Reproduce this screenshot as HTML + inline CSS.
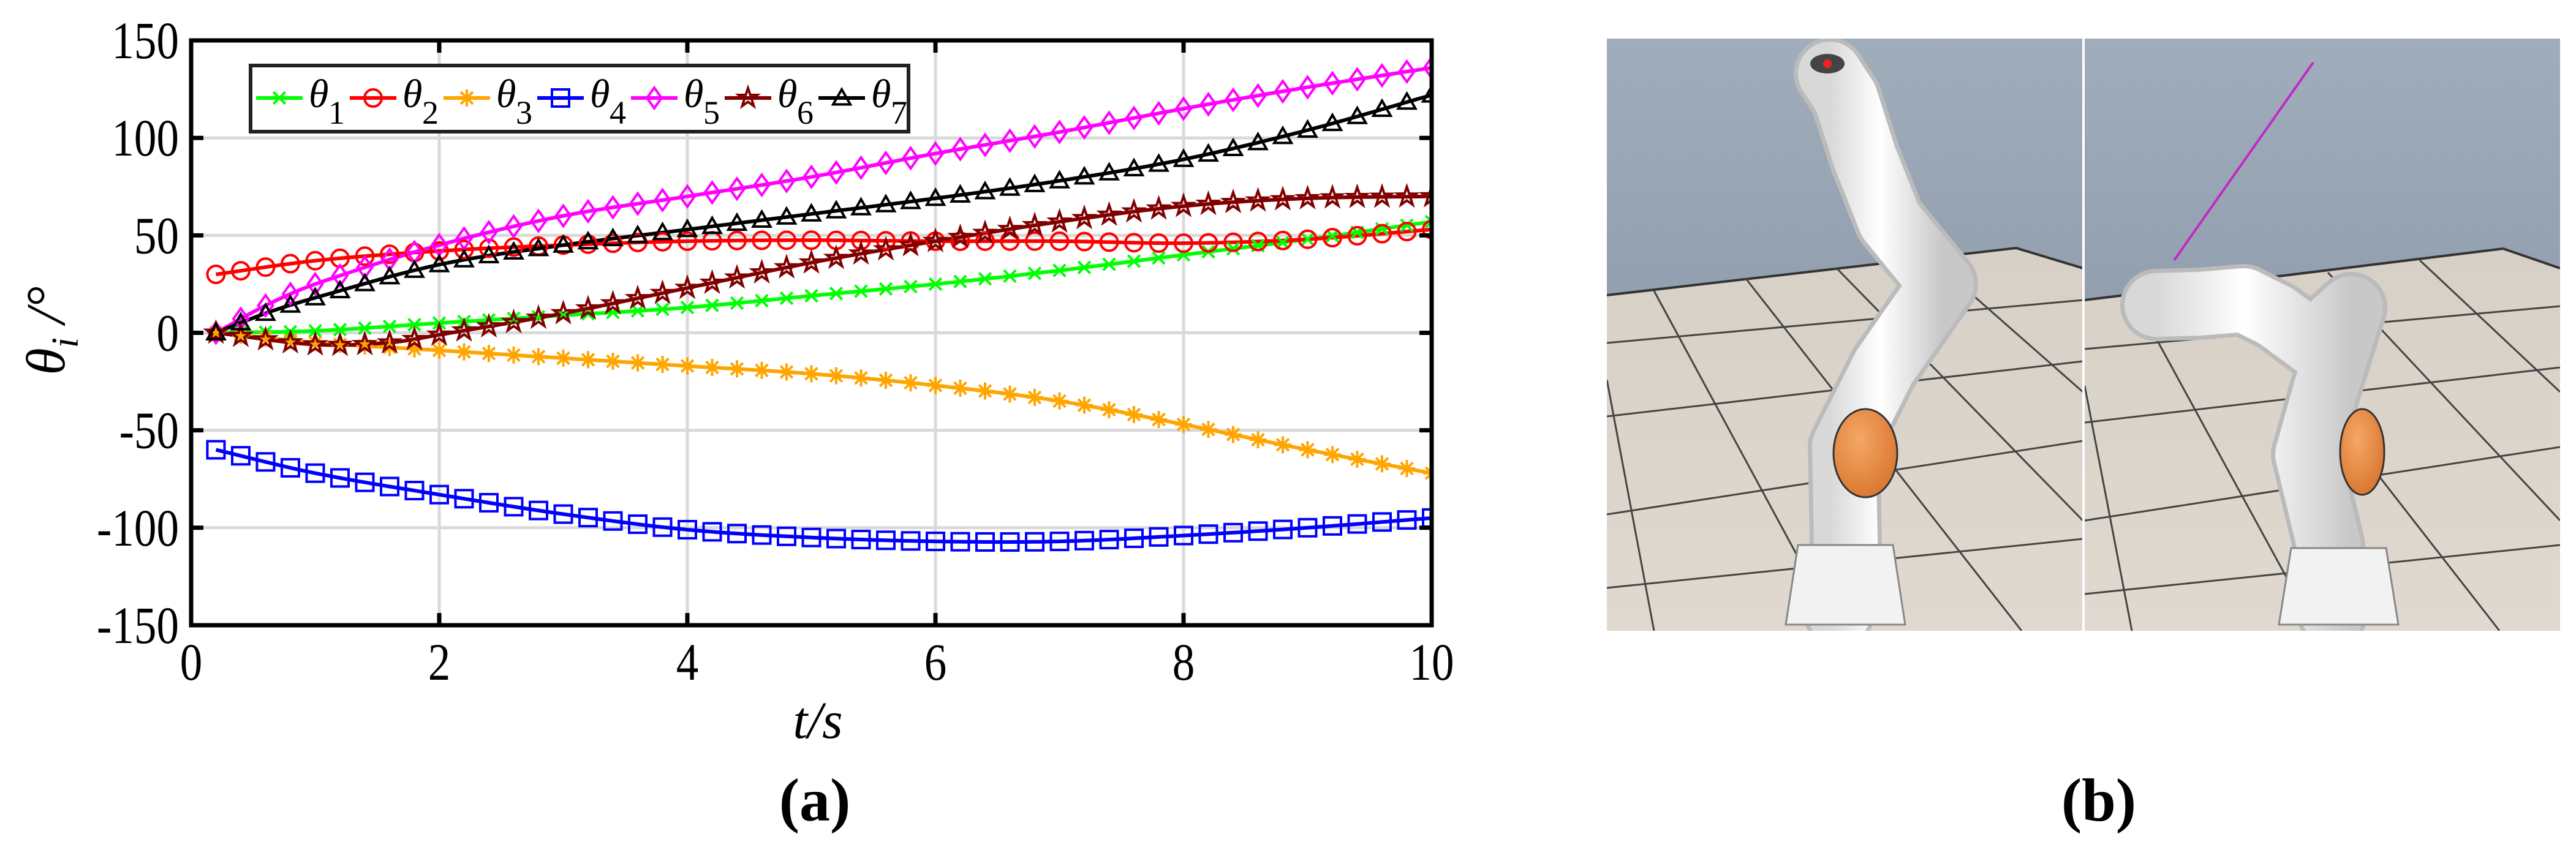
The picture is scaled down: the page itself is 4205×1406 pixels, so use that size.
<!DOCTYPE html>
<html><head><meta charset="utf-8">
<style>
html,body{margin:0;padding:0;background:#fff;}
svg{display:block;}
text{font-family:"Liberation Serif",serif;}
</style></head>
<body>
<svg id="s" width="4205" height="1406" viewBox="0 0 4205 1406" xmlns="http://www.w3.org/2000/svg">
<defs>
<linearGradient id="sky" x1="0" y1="0" x2="0" y2="1">
<stop offset="0" stop-color="#a0adbb"/><stop offset="1" stop-color="#808d9e"/>
</linearGradient>
<linearGradient id="floor" x1="0" y1="0" x2="0" y2="1">
<stop offset="0" stop-color="#d6d0c6"/><stop offset="1" stop-color="#e0d9d0"/>
</linearGradient>
<linearGradient id="wh" x1="0" y1="0" x2="1" y2="0">
<stop offset="0" stop-color="#d8d8d8"/><stop offset="0.45" stop-color="#ffffff"/><stop offset="1" stop-color="#c8c8c8"/>
</linearGradient>
<radialGradient id="or" cx="0.4" cy="0.35" r="0.7">
<stop offset="0" stop-color="#f5a866"/><stop offset="1" stop-color="#d8752f"/>
</radialGradient>
<clipPath id="pc"><rect x="312" y="66" width="2025" height="955"/></clipPath>
<clipPath id="lp"><rect x="2623" y="63" width="777" height="967"/></clipPath>
<clipPath id="rp"><rect x="3403" y="63" width="776" height="967"/></clipPath>
</defs>
<g id="grid" stroke="#d9d9d9" stroke-width="5"></g>
<g id="series" clip-path="url(#pc)"></g>
<rect x="312" y="66" width="2025" height="955" fill="none" stroke="#000" stroke-width="7"/>
<g id="ticks" stroke="#000" stroke-width="7"></g>
<g id="labels" font-size="86" fill="#000"></g>
<text x="1335" y="1205" font-size="86" font-style="italic" text-anchor="middle">t/s</text>
<g transform="translate(105,540) rotate(-90)">
<text x="0" y="0" font-size="90" font-style="italic" text-anchor="middle">θ<tspan font-size="62" dy="22">i</tspan><tspan dy="-22"> /°</tspan></text>
</g>
<text x="1330" y="1340" font-size="100" font-weight="bold" text-anchor="middle">(a)</text>
<text x="3426" y="1340" font-size="100" font-weight="bold" text-anchor="middle">(b)</text>
<rect x="409" y="107" width="1074" height="108" fill="#fff" stroke="#222" stroke-width="6"/>
<g id="legend"></g>

<g clip-path="url(#lp)">
<rect x="2623" y="63" width="777" height="967" fill="url(#sky)"/>
<polygon points="2623,482 3291,405 3400,438 3400,1030 2623,1030" fill="url(#floor)"/>
<polyline points="2623,482 3291,405 3400,438" fill="none" stroke="#333" stroke-width="4"/>
<g stroke="#444" stroke-width="3" fill="none">
<line x1="2623" y1="560" x2="3400" y2="490"/><line x1="2623" y1="680" x2="3400" y2="590"/>
<line x1="2623" y1="840" x2="3400" y2="720"/><line x1="2623" y1="960" x2="3400" y2="880"/>
<line x1="2700" y1="475" x2="3000" y2="1030"/><line x1="2850" y1="455" x2="3300" y2="1030"/>
<line x1="3000" y1="440" x2="3400" y2="850"/><line x1="3150" y1="420" x2="3400" y2="640"/>
<line x1="2623" y1="620" x2="2700" y2="1030"/>
</g>
<path d="M2987,120 L3013,160 L3044,257 L3085,360 L3170,464 L3075,600 L3010,729 L3013,885 L3002,1000" fill="none" stroke="#bbb" stroke-width="118" stroke-linecap="round" stroke-linejoin="round"/>
<path d="M2987,120 L3013,160 L3044,257 L3085,360 L3170,464 L3075,600 L3010,729 L3013,885 L3002,1000" fill="none" stroke="url(#wh)" stroke-width="104" stroke-linecap="round" stroke-linejoin="round"/>
<polygon points="2935,890 3090,890 3110,1020 2915,1020" fill="#f2f2f2" stroke="#888" stroke-width="3"/>
<ellipse cx="3045" cy="740" rx="52" ry="72" fill="url(#or)" stroke="#333" stroke-width="3"/>
<ellipse cx="2983" cy="104" rx="28" ry="16" fill="#444"/><circle cx="2983" cy="104" r="7" fill="#e22"/>
</g>
<g clip-path="url(#rp)">
<rect x="3403" y="63" width="776" height="967" fill="url(#sky)"/>
<polygon points="3403,490 4086,406 4179,438 4179,1030 3403,1030" fill="url(#floor)"/>
<polyline points="3403,490 4086,406 4179,438" fill="none" stroke="#333" stroke-width="4"/>
<g stroke="#444" stroke-width="3" fill="none">
<line x1="3403" y1="570" x2="4179" y2="500"/><line x1="3403" y1="690" x2="4179" y2="600"/>
<line x1="3403" y1="850" x2="4179" y2="730"/><line x1="3403" y1="970" x2="4179" y2="890"/>
<line x1="3480" y1="480" x2="3780" y2="1030"/><line x1="3640" y1="465" x2="4080" y2="1030"/>
<line x1="3800" y1="445" x2="4179" y2="850"/><line x1="3950" y1="425" x2="4179" y2="640"/>
<line x1="3403" y1="630" x2="3480" y2="1030"/>
</g>
<line x1="3549" y1="425" x2="3776" y2="102" stroke="#c02ac8" stroke-width="4"/>
<path d="M3520,498 L3591,496 L3663,490 L3715,516 L3775,560 L3838,503 L3797,632 L3766,742 L3802,891 L3807,1000" fill="none" stroke="#bbb" stroke-width="118" stroke-linecap="round" stroke-linejoin="round"/>
<path d="M3520,498 L3591,496 L3663,490 L3715,516 L3775,560 L3838,503 L3797,632 L3766,742 L3802,891 L3807,1000" fill="none" stroke="url(#wh)" stroke-width="104" stroke-linecap="round" stroke-linejoin="round"/>
<polygon points="3740,895 3895,895 3915,1020 3720,1020" fill="#f2f2f2" stroke="#888" stroke-width="3"/>
<ellipse cx="3856" cy="738" rx="36" ry="70" fill="url(#or)" stroke="#333" stroke-width="3"/>
</g>
<line x1="3401" y1="63" x2="3401" y2="1030" stroke="#fff" stroke-width="4"/>
</svg>
<script>
const NS="http://www.w3.org/2000/svg";
const X=v=>312+v*202.5, Y=v=>543.5-v*3.183;
function el(p,t,a){const e=document.createElementNS(NS,t);for(const k in a)e.setAttribute(k,a[k]);p.appendChild(e);return e;}
const grid=document.getElementById('grid'),ticks=document.getElementById('ticks'),labels=document.getElementById('labels');
for(let i=1;i<5;i++){el(grid,'line',{x1:X(2*i),x2:X(2*i),y1:66,y2:1021});}
for(let v=-100;v<=100;v+=50){el(grid,'line',{x1:312,x2:2337,y1:Y(v),y2:Y(v)});}
for(let i=0;i<=5;i++){const x=X(2*i);el(ticks,'line',{x1:x,x2:x,y1:1021,y2:1001});el(ticks,'line',{x1:x,x2:x,y1:66,y2:86});
 const t=el(labels,'text',{x:0,y:0,'text-anchor':'middle',transform:`translate(${x},1110) scale(0.85,1)`});t.textContent=2*i;}
for(let v=-150;v<=150;v+=50){const y=Y(v);el(ticks,'line',{x1:312,x2:332,y1:y,y2:y});el(ticks,'line',{x1:2337,x2:2317,y1:y,y2:y});
 const t=el(labels,'text',{x:0,y:0,'text-anchor':'end',transform:`translate(292,${y+29}) scale(0.85,1)`});t.textContent=v;}
const K={
1:[[0.2,0],[1,1],[2,5],[3,9],[4,13],[5,19],[6,25],[7,32],[8,40],[9,48],[10,57]],
2:[[0.2,30],[1,37],[2,42],[3,45],[4,47],[5,47.5],[6,47],[7,47],[8,46],[9,48],[10,53]],
3:[[0.2,0],[1,-5],[2,-9],[3,-13],[4,-17],[5,-21],[6,-27],[7,-35],[8,-47],[9,-60],[10,-72]],
4:[[0.2,-60],[1,-72],[2,-83],[3,-93],[4,-101],[5,-105],[6,-107],[7,-107],[8,-104],[9,-100],[10,-95]],
5:[[0.2,0],[0.6,14],[1,25],[2,45],[3,60],[4,70],[5,80],[6,92],[7,103],[8,115],[9,126],[10,136]],
6:[[0.2,0],[1,-6],[1.6,-5],[2,-1],[3,10],[4,23],[5,36],[6,47],[7,57],[8,65],[9,69],[10,70]],
7:[[0.2,0],[0.6,10],[1,18],[2,35],[3,45],[4,53],[5,61],[6,69],[7,78],[8,89],[9,104],[10,122]]};
const C={1:'#00ff00',2:'#ff0000',3:'#ffa500',4:'#0000ff',5:'#ff00ff',6:'#800000',7:'#000000'};
function f(k,t){const a=K[k];for(let i=0;i<a.length-1;i++){if(t<=a[i+1][0]){
 const p0=a[Math.max(i-1,0)],p1=a[i],p2=a[i+1],p3=a[Math.min(i+2,a.length-1)];
 const u=(t-p1[0])/(p2[0]-p1[0]);const m1=(p2[1]-p0[1])/(p2[0]-p0[0]||1)*(p2[0]-p1[0]),m2=(p3[1]-p1[1])/(p3[0]-p1[0]||1)*(p2[0]-p1[0]);
 const h00=2*u*u*u-3*u*u+1,h10=u*u*u-2*u*u+u,h01=-2*u*u*u+3*u*u,h11=u*u*u-u*u;
 return h00*p1[1]+h10*m1+h01*p2[1]+h11*m2;}}return a[a.length-1][1];}
function marker(g,k,x,y,s){const c=C[k],sw=4;const r=s/2;
 if(k==1){el(g,'path',{d:`M${x-r*.7},${y-r*.7}L${x+r*.7},${y+r*.7}M${x-r*.7},${y+r*.7}L${x+r*.7},${y-r*.7}`,stroke:c,'stroke-width':sw,fill:'none'});}
 else if(k==2){el(g,'circle',{cx:x,cy:y,r:r,stroke:c,'stroke-width':sw,fill:'none'});}
 else if(k==3){let d='';for(let a=0;a<4;a++){const an=a*Math.PI/4;d+=`M${x-r*Math.cos(an)},${y-r*Math.sin(an)}L${x+r*Math.cos(an)},${y+r*Math.sin(an)}`;}el(g,'path',{d,stroke:c,'stroke-width':sw,fill:'none'});}
 else if(k==4){el(g,'rect',{x:x-r,y:y-r,width:s,height:s,stroke:c,'stroke-width':sw,fill:'none'});}
 else if(k==5){el(g,'path',{d:`M${x},${y-r*1.2}L${x+r*.85},${y}L${x},${y+r*1.2}L${x-r*.85},${y}Z`,stroke:c,'stroke-width':sw,fill:'none'});}
 else if(k==6){let d='';for(let i=0;i<10;i++){const an=-Math.PI/2+i*Math.PI/5;const rr=i%2?r*0.45:r*1.15;d+=(i?'L':'M')+(x+rr*Math.cos(an))+','+(y+rr*Math.sin(an));}el(g,'path',{d:d+'Z',stroke:c,'stroke-width':sw,fill:'none'});}
 else if(k==7){el(g,'path',{d:`M${x},${y-r}L${x+r},${y+r*.75}L${x-r},${y+r*.75}Z`,stroke:c,'stroke-width':sw,fill:'none'});}
}
const S=document.getElementById('series');
for(let k=1;k<=7;k++){let d='';for(let t=0.2;t<=10.001;t+=0.05){d+=(d?'L':'M')+X(t).toFixed(1)+','+Y(f(k,t)).toFixed(1);}
 el(S,'path',{d,stroke:C[k],'stroke-width':6,fill:'none'});}
for(let k=1;k<=7;k++){for(let i=1;i<=50;i++){const t=i*0.2;marker(S,k,X(t),Y(f(k,t)),28);}}
const L=document.getElementById('legend');
for(let k=1;k<=7;k++){const x0=418+(k-1)*153;
 el(L,'line',{x1:x0,x2:x0+76,y1:160,y2:160,stroke:C[k],'stroke-width':6});marker(L,k,x0+38,160,28);
 const t=el(L,'text',{x:x0+86,y:175,'font-size':66,'font-style':'italic'});t.textContent='θ';
 const s=el(L,'text',{x:x0+118,y:202,'font-size':54});s.textContent=k;}
</script>
</body></html>
